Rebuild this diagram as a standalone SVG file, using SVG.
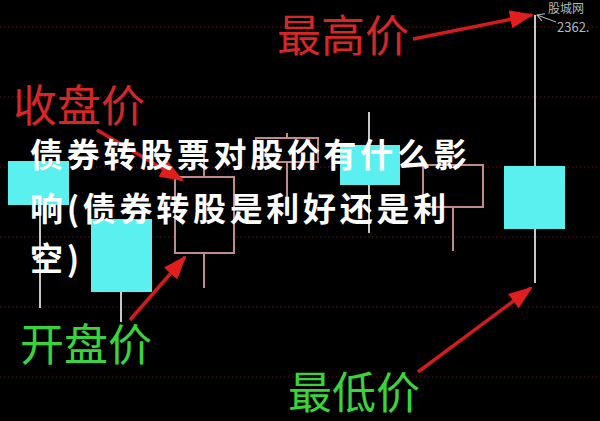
<svg xmlns="http://www.w3.org/2000/svg" width="600" height="421" viewBox="0 0 600 421">
<defs>
<style>
.grid{stroke:#5a1a1a;stroke-width:1.2;stroke-dasharray:1.5 2.5}
.up{fill:#5af0f0}
.wk{stroke:#c8c8c8;stroke-width:2}
.hol{fill:#000;stroke:#c08a8a;stroke-width:2}
.hwk{stroke:#c08a8a;stroke-width:2}
.red{fill:#d62626;font-family:"Noto Sans CJK SC","Noto Sans",sans-serif;font-size:44px}
.grn{fill:#3ad43a;font-family:"Noto Sans CJK SC","Noto Sans",sans-serif;font-size:44px}
.arr{stroke:#d01c1c;stroke-width:3.5;fill:none;marker-end:url(#ah)}
.wt{fill:#fff;font-family:"Noto Sans CJK SC","Noto Sans",sans-serif;font-size:33px;font-weight:bold;letter-spacing:3.7px}
.gr{fill:#b8b8b8;font-family:"Noto Sans CJK SC","Liberation Sans",sans-serif}
</style>
<marker id="ah" markerUnits="userSpaceOnUse" markerWidth="24" markerHeight="18" refX="22" refY="9" orient="auto">
<path d="M0,0 L24,9 L0,18 Z" fill="#e01e1e"/>
</marker>
<marker id="sh" markerUnits="userSpaceOnUse" markerWidth="8" markerHeight="8" refX="7" refY="4" orient="auto">
<path d="M0,0 L7,4 L0,8" fill="none" stroke="#c0c0c0" stroke-width="1"/>
</marker>
</defs>
<rect width="600" height="421" fill="#000"/>
<g id="grid">
<line class="grid" x1="0" y1="27" x2="600" y2="27"/>
<line class="grid" x1="0" y1="97" x2="600" y2="97"/>
<line class="grid" x1="0" y1="167" x2="600" y2="167"/>
<line class="grid" x1="0" y1="237" x2="600" y2="237"/>
<line class="grid" x1="0" y1="307" x2="600" y2="307"/>
<line class="grid" x1="0" y1="377" x2="600" y2="377"/>
</g>
<g id="candle1"><line class="wk" x1="40" y1="205" x2="40" y2="308"/><rect class="up" x="8" y="161" width="61" height="44"/></g>
<g id="candle2"><line class="wk" x1="121" y1="292" x2="121" y2="322"/><rect class="up" x="91" y="219" width="61" height="73"/></g>
<g id="candle3"><line class="hwk" x1="204" y1="150" x2="204" y2="288"/><rect class="hol" x="175" y="177" width="59" height="76"/></g>
<g id="candle4"><line class="hwk" x1="287" y1="133" x2="287" y2="200"/><rect class="hol" x="256" y="138" width="62" height="24"/></g>
<g id="candle5"><line class="wk" x1="369" y1="112" x2="369" y2="233"/><rect class="up" x="340" y="145" width="60" height="40"/></g>
<g id="candle6"><line class="hwk" x1="453" y1="207" x2="453" y2="251"/><rect class="hol" x="423" y="165" width="60" height="42"/></g>
<g id="candle7"><line class="wk" x1="535" y1="15" x2="535" y2="283"/><rect class="up" x="504" y="166" width="61" height="63"/></g>
<g id="watermark">
<text class="gr" x="548" y="13" font-size="12">股城网</text>
<text class="gr" x="557" y="32" font-size="13" font-family="Liberation Sans,sans-serif">2362.</text>
<line x1="556" y1="22" x2="537" y2="15" stroke="#c0c0c0" stroke-width="1" marker-end="url(#sh)"/>
</g>
<g id="connectors">
<line class="arr" x1="413" y1="39" x2="532" y2="15"/>
<line class="arr" x1="97" y1="130" x2="182" y2="180"/>
<line class="arr" x1="130" y1="320" x2="185" y2="257"/>
<line class="arr" x1="418" y1="372" x2="531" y2="288"/>
</g>
<g id="label-high"><text class="red" x="277" y="52">最高价</text></g>
<g id="label-close"><text class="red" x="13" y="122">收盘价</text></g>
<g id="label-open"><text class="grn" x="20" y="361" font-size="43">开盘价</text></g>
<g id="label-low"><text class="grn" x="288" y="409" font-size="43">最低价</text></g>
<g id="title">
<text class="wt" x="30" y="167">债券转股票对股价有什么影</text>
<text class="wt" x="30" y="221">响(债券转股是利好还是利</text>
<text class="wt" x="30" y="271">空)</text>
</g>
</svg>
